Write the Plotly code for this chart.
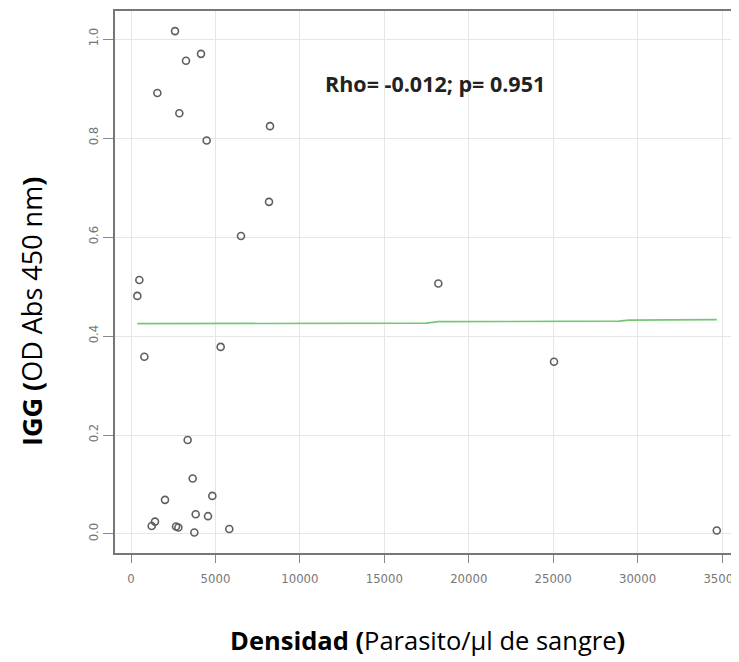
import plotly.graph_objects as go

# Data
densidad = [2606, 4145, 3257, 1560, 2862, 8232, 4481,
            8172, 6514, 493, 375, 5310, 790,
            18200, 25050,
            3355, 3652, 4816, 2013, 3830, 4560, 1421, 1225, 2665, 2803, 3750, 5820,
            34690]
igg = [1.016, 0.970, 0.956, 0.891, 0.850, 0.824, 0.795,
       0.671, 0.602, 0.513, 0.481, 0.378, 0.358,
       0.506, 0.348,
       0.190, 0.112, 0.077, 0.069, 0.040, 0.036, 0.025, 0.016, 0.015, 0.013, 0.003, 0.010,
       0.007]

smooth_x = [375, 17500, 18200, 28900, 29500, 34690]
smooth_y = [0.425, 0.426, 0.429, 0.430, 0.432, 0.433]

x_ticks = [0, 5000, 10000, 15000, 20000, 25000, 30000, 35000]
x_ticktext = ["0", "5000", "10000", "15000", "20000", "25000", "30000", "35000"]
y_ticks = [0.0, 0.2, 0.4, 0.6, 0.8, 1.0]
y_ticktext = ["0.0", "0.2", "0.4", "0.6", "0.8", "1.0"]

fig = go.Figure()
fig.add_trace(go.Scatter(x=smooth_x, y=smooth_y, mode="lines",
                         line=dict(color="#74c874", width=1.6), hoverinfo="skip"))
fig.add_trace(go.Scatter(x=densidad, y=igg, mode="markers",
                         marker=dict(symbol="circle-open", size=7, color="#5e5e5e",
                                     line=dict(width=1.6, color="#5e5e5e"))))

tickfont = dict(family="DejaVu Sans Condensed, DejaVu Sans", size=13, color="#777777")
# the page body adds an 8 px margin, so the figure is 8 px smaller on each axis
fig.update_layout(
    width=731, height=654,
    margin=dict(l=107, r=0, t=3, b=109, autoexpand=False),
    paper_bgcolor="white", plot_bgcolor="white",
    showlegend=False,
    xaxis=dict(range=[-948, 36006], tickvals=x_ticks, ticktext=x_ticktext,
               ticks="outside", ticklen=8, ticklabelstandoff=4,
               ticklabeloverflow="allow",
               tickcolor="#888888", tickwidth=1, tickfont=tickfont,
               showgrid=True, gridcolor="#e6e6e6", gridwidth=1, zeroline=False,
               showline=True, linecolor="#777777", linewidth=2, mirror=True,
               automargin=False),
    yaxis=dict(range=[-0.0384, 1.0566], tickvals=y_ticks, ticktext=y_ticktext,
               ticks="outside", ticklen=10, tickcolor="#888888", tickwidth=1,
               tickangle=-90, tickfont=tickfont,
               showgrid=True, gridcolor="#e6e6e6", gridwidth=1, zeroline=False,
               showline=True, linecolor="#777777", linewidth=2, mirror=False,
               automargin=False),
    annotations=[
        dict(x=18003, y=0.911, xref="x", yref="y", showarrow=False,
             text="<b>Rho= -0.012; p= 0.951</b>",
             font=dict(family="Open Sans", size=21.5, color="#222222")),
        dict(x=0.5, y=-0.1605, xref="paper", yref="paper", showarrow=False,
             xanchor="center", yanchor="middle",
             text="<b>Densidad (</b>Parasito/µl de sangre<b>)</b>",
             font=dict(family="Open Sans", size=25.5, color="black")),
        dict(x=-0.1346, y=0.4446, xref="paper", yref="paper", showarrow=False,
             xanchor="center", yanchor="middle", textangle=-90,
             text="<b>IGG (</b>OD Abs 450 nm<b>)</b>",
             font=dict(family="Open Sans", size=27, color="black")),
    ],
)

fig.write_html("out.html")
